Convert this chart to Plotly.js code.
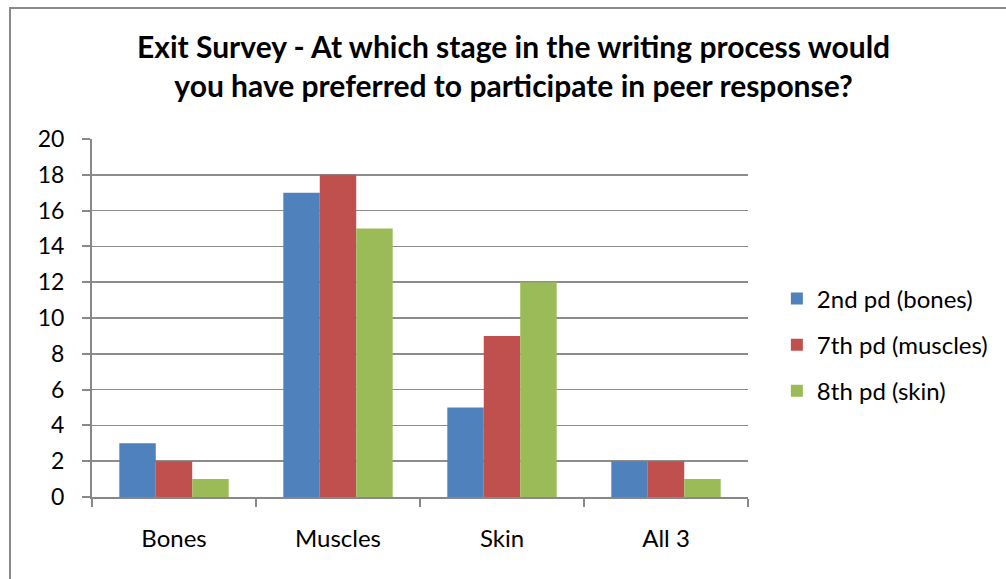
<!DOCTYPE html>
<html>
<head>
<meta charset="utf-8">
<script src="https://cdn.plot.ly/plotly-3.0.1.min.js"></script>
<style>html,body{margin:0;padding:0;background:#fff;}#chart{width:1006px;height:579px;}</style>
</head>
<body>
<div id="chart"></div>
<script>
const categories = ["Bones", "Muscles", "Skin", "All 3"];
const seriesNames = ["2nd pd (bones)", "7th pd (muscles)", "8th pd (skin)"];
const period2 = [3, 17, 5, 2];
const period7 = [2, 18, 9, 2];
const period8 = [1, 15, 12, 1];
const seriesValues = [period2, period7, period8];
const colors = ["#4F81BD", "#C0504D", "#9BBB59"];
const yTicks = [0, 2, 4, 6, 8, 10, 12, 14, 16, 18, 20];
const titleText = "<b>Exit Survey - At which stage in the writing process would<br>you have preferred to participate in peer response?</b>";

const traces = seriesValues.map((vals, i) => ({
  type: "bar",
  name: seriesNames[i],
  x: categories,
  y: vals,
  marker: {color: colors[i], line: {width: 0}},
  legendgroup: "g" + i,
  hoverinfo: "x+y+name"
}));

const fam = "Lato, 'Open Sans', sans-serif";

const layout = {
  width: 1006,
  height: 579,
  margin: {l: 92, r: 258, t: 139, b: 82},
  paper_bgcolor: "#ffffff",
  plot_bgcolor: "#ffffff",
  font: {family: fam, size: 24, color: "#000"},
  bargap: 0.333,
  bargroupgap: 0,
  barmode: "group",
  xaxis: {
    type: "category",
    showline: true, linecolor: "#888888", linewidth: 2,
    ticks: "outside", tickson: "boundaries", ticklen: 8, tickcolor: "#888888", tickwidth: 2,
    showgrid: false,
    ticklabelstandoff: 19,
    tickfont: {size: 24}
  },
  yaxis: {
    range: [0, 20],
    tickvals: yTicks,
    showline: true, linecolor: "#888888", linewidth: 2,
    ticks: "outside", ticklen: 8, tickcolor: "#888888", tickwidth: 2,
    showgrid: true, gridcolor: "#8c8c8c", gridwidth: 1.5,
    zeroline: false,
    ticklabelstandoff: 13,
    tickfont: {size: 23}
  },
  legend: {
    x: 1.044, xanchor: "left",
    y: 0.425, yanchor: "middle",
    traceorder: "grouped",
    tracegroupgap: 12,
    font: {size: 24},
    bgcolor: "rgba(0,0,0,0)"
  },
  annotations: [{
    text: titleText,
    xref: "paper", yref: "paper",
    x: 0.6425, xanchor: "center",
    y: 1.206, yanchor: "middle",
    showarrow: false,
    font: {family: fam, size: 30, color: "#000"}
  }],
  shapes: [{
    type: "rect", xref: "paper", yref: "paper",
    x0: -0.125, x1: 2, y0: -1, y1: 1.366,
    line: {color: "#8a8a8a", width: 2}, fillcolor: "rgba(0,0,0,0)", layer: "below"
  }],
  showlegend: true
};

Plotly.newPlot("chart", traces, layout, {displayModeBar: false, staticPlot: true});
</script>
</body>
</html>
